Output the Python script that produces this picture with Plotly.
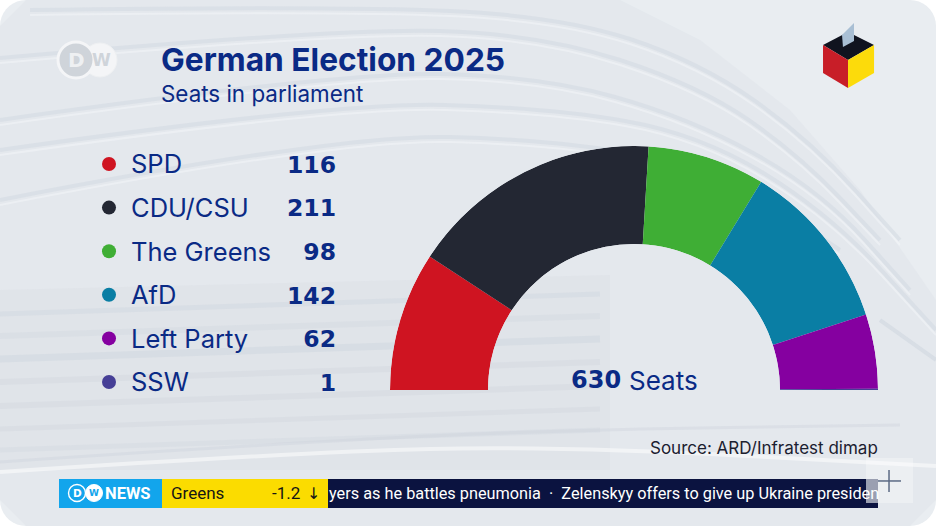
import numpy as np
import plotly.graph_objects as go

parties = ["SPD", "CDU/CSU", "The Greens", "AfD", "Left Party", "SSW"]
seats = [116, 211, 98, 142, 62, 1]
colors = ["#cf1421", "#232733", "#3fae35", "#0a7ea4", "#8500a0", "#463f96"]

NAVY = "#0a2a85"
total = sum(seats)
deg = np.array(seats) * 180 / total
mid = np.cumsum(deg) - deg / 2


def px(x):
    return x / 936


def py(y):
    return 1 - y / 526


def rect(x0, y0, x1, y1, color, layer="below"):
    return dict(type="rect", xref="paper", yref="paper", x0=px(x0), x1=px(x1), y0=py(y0), y1=py(y1),
                fillcolor=color, line_width=0, layer=layer)


def path(pts, color=None, line=None, width=1, close=True, layer="below"):
    d = "M " + " L ".join(f"{px(x):.4f},{py(y):.4f}" for x, y in pts) + (" Z" if close else "")
    return dict(type="path", xref="paper", yref="paper", path=d, fillcolor=color,
                line=dict(color=line, width=width if line else 0), layer=layer)


def curve(pts, line, width):
    # quadratic segments through the midpoints, so the ribs bend instead of kink
    p = [(px(x), py(y)) for x, y in pts]
    d = f"M {p[0][0]:.4f},{p[0][1]:.4f}"
    for a, b in zip(p[1:-1], p[2:]):
        d += f" Q {a[0]:.4f},{a[1]:.4f} {(a[0] + b[0]) / 2:.4f},{(a[1] + b[1]) / 2:.4f}"
    d += f" L {p[-1][0]:.4f},{p[-1][1]:.4f}"
    return dict(type="path", xref="paper", yref="paper", path=d, line=dict(color=line, width=width), layer="below")


def circle(cx, cy, r, color, line=None, width=0, layer="below"):
    return dict(type="circle", xref="paper", yref="paper", x0=px(cx - r), x1=px(cx + r),
                y0=py(cy + r), y1=py(cy - r), fillcolor=color,
                line=dict(color=line, width=width), layer=layer)


def label(x, y, text, size, color=NAVY, anchor="left", family="Inter"):
    return dict(xref="paper", yref="paper", x=px(x), y=py(y), text=text, showarrow=False,
                xanchor=anchor, yanchor="middle", font=dict(family=family, size=size, color=color))


# background card with rounded corners
r = 26
t = np.linspace(0, np.pi / 2, 10)
card = ([(936 - r + r * np.sin(a), r - r * np.cos(a)) for a in t]
        + [(936 - r + r * np.cos(a), 526 - r + r * np.sin(a)) for a in t]
        + [(r - r * np.sin(a), 526 - r + r * np.cos(a)) for a in t]
        + [(r - r * np.cos(a), r - r * np.sin(a)) for a in t])
shapes = [path(card, "#e9edf1")]

# backdrop photo: dome body, ribs and glass bands, only hinted
shapes.append(path([(26, 0), (620, 0), (700, 40), (790, 110), (860, 190), (936, 300), (936, 500), (910, 526),
                    (26, 526), (0, 500), (0, 26)], "rgba(222,226,232,.45)"))
shapes.append(path([(0, 290), (610, 275), (610, 470), (0, 470)], "rgba(214,219,226,.3)"))
ribs = [
    [(30, 10), (340, 6), (560, 16), (700, 62), (810, 140), (900, 240)],
    [(0, 58), (340, 28), (540, 34), (700, 86), (800, 156), (880, 240)],
    [(0, 120), (340, 72), (540, 76), (690, 118), (820, 190), (910, 290)],
    [(0, 150), (340, 102), (550, 108), (700, 134), (830, 214), (936, 330)],
    [(0, 200), (340, 134), (560, 140), (720, 170), (840, 250)],
]
for rib in ribs:
    shapes.append(curve(rib, "rgba(212,218,226,.6)", 4))
    shapes.append(curve([(x, y + 5) for x, y in rib], "rgba(248,250,252,.4)", 2))
for yy, c, w in [(300, .4, 5), (322, .3, 6), (345, .45, 7), (368, .35, 6), (392, .35, 6), (415, .35, 5),
                 (436, .3, 5)]:
    shapes.append(path([(0, yy + 14), (600, yy - 6)], line=f"rgba(205,212,222,{c})", width=w, close=False))
shapes.append(curve([(0, 472), (300, 452), (560, 446), (936, 466)], "rgba(255,255,255,.5)", 4))
shapes.append(curve([(0, 462), (300, 442), (560, 430), (900, 425)], "rgba(204,211,221,.4)", 3))
shapes.append(path([(880, 320), (936, 360)], line="rgba(204,211,221,.5)", width=4, close=False))

# DW logo
shapes += [
    circle(100, 60, 17, "#f4f5f7", "#eef0f2", 1),
    circle(76, 60, 18, "#cfd4da", "#f4f5f7", 3),
]

# ballot box
shapes += [
    path([(823, 45), (848, 32), (874, 45), (848, 60)], "#10131f"),
    path([(842, 35), (854, 23), (854, 41), (843, 47)], "#a9bfd4"),
    path([(823, 45), (848, 60), (848, 88), (823, 73)], "#c81e28"),
    path([(848, 60), (874, 45), (874, 73), (848, 88)], "#fcdb0b"),
]

# news ticker and plus button
shapes += [
    rect(866, 458, 913, 503, "rgba(255,255,255,.3)"),
    rect(59, 479, 162, 508, "#12a5ec"),
    rect(162, 479, 328, 508, "#fbdc00"),
    rect(328, 479, 878, 508, "#0b1340"),
    circle(94, 493, 8.5, "white", "white", 1, layer="above"),
    circle(77, 493, 8.5, "#12a5ec", "white", 1.4, layer="above"),
    rect(866, 479, 878, 503, "rgba(170,175,190,.9)", layer="above"),
    path([(889, 470), (889, 492)], line="#5b6a84", width=1.5, close=False, layer="above"),
    path([(878, 481), (901, 481)], line="#5b6a84", width=1.5, close=False, layer="above"),
]

annotations = [
    label(76, 60, "<b>D</b>", 20, color="#eef0f2", anchor="center", family="DejaVu Sans"),
    label(101, 60, "<b>W</b>", 17, color="#cfd4da", anchor="center", family="DejaVu Sans"),
    label(159, 60, "<b>German Election 2025</b>", 31.7),
    label(159, 94, "Seats in parliament", 22.4),
    label(623, 380, f"<b>{total}</b>", 24, anchor="right", family="DejaVu Sans"),
    label(627, 380, "Seats", 26),
    label(880, 448, "Source: ARD/Infratest dimap", 17, color="#1b2030", anchor="right"),
    label(77, 493, "<b>D</b>", 10.5, color="white", anchor="center", family="DejaVu Sans"),
    label(94, 493, "<b>W</b>", 9, color="#12a5ec", anchor="center", family="DejaVu Sans"),
    label(103, 493, "<b>NEWS</b>", 16.5, color="white", family="Roboto"),
    label(169, 493, "Greens", 17, color="#151515", family="Roboto"),
    label(302, 493, "-1.2", 17, color="#151515", anchor="right", family="Roboto"),
    label(313, 493, "↓", 16, color="#151515", anchor="center", family="DejaVu Sans"),
    label(327, 493, "yers as he battles pneumonia  ·  Zelenskyy offers to give up Ukraine presiden", 16.3,
          color="white", family="Roboto"),
]

fig = go.Figure()

# parliament half ring
fig.add_trace(go.Barpolar(
    r=[1] * len(parties),
    theta=mid,
    width=deg,
    marker=dict(color=colors, line_width=0),
    hoverinfo="skip",
    showlegend=False,
))

# party list, text rows sit on a second y axis a few pixels lower than the dots
fig.add_trace(go.Scatter(x=[109] * 6, y=parties, mode="markers", marker=dict(size=14, color=colors),
                         xaxis="x", yaxis="y", showlegend=False))
fig.add_trace(go.Scatter(x=[131] * 6, y=parties, mode="text", text=parties, textposition="middle right",
                         textfont=dict(family="Inter", size=25.5, color=NAVY), yaxis="y2", showlegend=False))
fig.add_trace(go.Scatter(x=[336] * 6, y=parties, mode="text", text=[f"<b>{s}</b>" for s in seats],
                         textposition="middle left", textfont=dict(family="DejaVu Sans", size=23.5, color=NAVY),
                         yaxis="y2", showlegend=False))

fig.update_layout(
    width=936,
    height=526,
    margin=dict(l=0, r=0, t=0, b=0),
    paper_bgcolor="white",
    plot_bgcolor="rgba(0,0,0,0)",
    shapes=shapes,
    annotations=annotations,
    polar=dict(
        domain=dict(x=[px(390), px(878)], y=[py(390), py(146)]),
        sector=[0, 180],
        hole=146 / 244,
        bgcolor="rgba(0,0,0,0)",
        angularaxis=dict(visible=False, direction="clockwise", rotation=180, thetaunit="degrees"),
        radialaxis=dict(visible=False, range=[0, 1]),
    ),
    xaxis=dict(visible=False, range=[0, 936], domain=[0, 1], fixedrange=True),
    yaxis=dict(visible=False, type="category", categoryorder="array", categoryarray=parties,
               range=[5.5, -0.5], domain=[py(403.8), py(142.2)], fixedrange=True),
    yaxis2=dict(visible=False, type="category", categoryorder="array", categoryarray=parties,
                range=[5.5, -0.5], domain=[py(406.8), py(145.2)], fixedrange=True, anchor="x"),
)

# the browser's default body margin would push the 936x526 figure off the window
fig.write_html("out.html", config=dict(displayModeBar=False), post_script="document.body.style.margin = '0';")
